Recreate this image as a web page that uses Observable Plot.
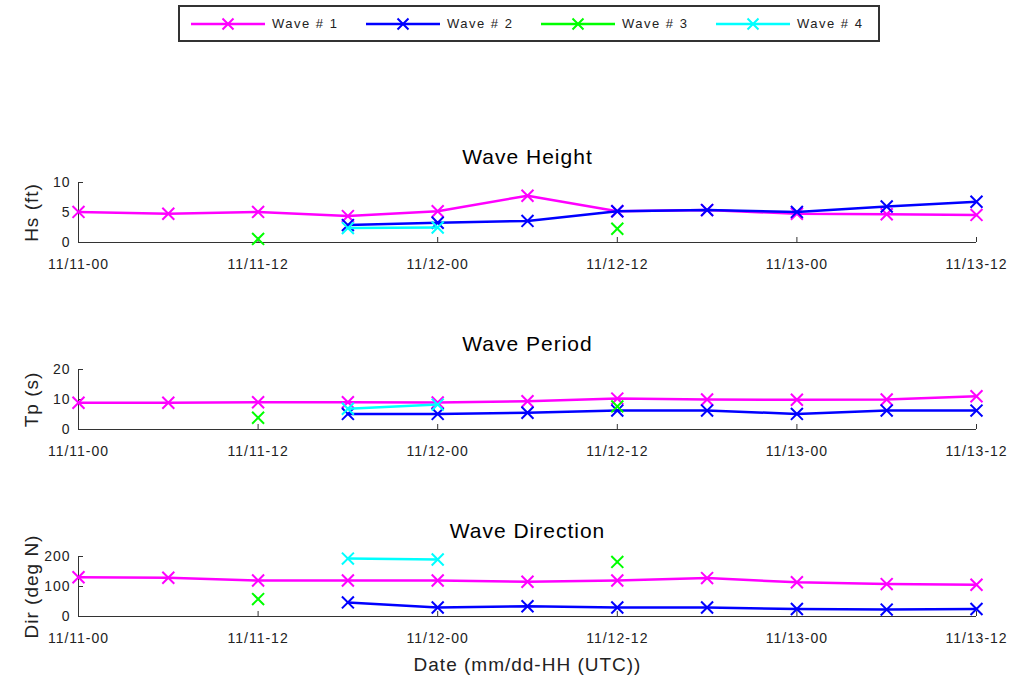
<!DOCTYPE html>
<html>
<head>
<meta charset="utf-8">
<script src="https://cdn.jsdelivr.net/npm/d3@7"></script>
<script src="https://cdn.jsdelivr.net/npm/@observablehq/plot@0.6"></script>
<style>
  body { margin: 0; background: #fff; }
  #root { position: relative; width: 1015px; height: 684px; overflow: hidden; background: #fff;
          font-family: "Liberation Sans", Arial, sans-serif; }
  .panel { position: absolute; left: 0; }
  #legend { position: absolute; left: 178px; top: 5px; width: 702px; height: 37px; box-sizing: border-box;
            border: 2px solid #333; background: #fff; }
  .item { position: absolute; top: 6px; height: 22px; }
  .item svg { position: absolute; left: 0; top: 0; }
  .item span { position: absolute; left: 82px; top: 3px; font-size: 13px; letter-spacing: 1.5px; color: #222; white-space: nowrap; }
</style>
</head>
<body>
<div id="root">
  <div id="legend"></div>
</div>
<script>
// ---- data ----
const hours = [0, 6, 12, 18, 24, 30, 36, 42, 48, 54, 60];
const xTickHours = [0, 12, 24, 36, 48, 60];
const xTickLabels = ["11/11-00", "11/11-12", "11/12-00", "11/12-12", "11/13-00", "11/13-12"];
const seriesNames = ["Wave # 1", "Wave # 2", "Wave # 3", "Wave # 4"];
const seriesColors = ["#ff00ff", "#0000ff", "#00ff00", "#00ffff"];

// Wave height (ft)
const hs1 = [5.1, 4.8, 5.1, 4.4, 5.2, 7.8, 5.2, 5.4, 4.8, 4.7, 4.6];
const hs2 = [null, null, null, 2.9, 3.3, 3.6, 5.2, 5.4, 5.1, 6.0, 6.8];
const hs3 = [null, null, 0.6, null, null, null, 2.3, null, null, null, null];
const hs4 = [null, null, null, 2.4, 2.5, null, null, null, null, null, null];

// Wave period (s)
const tp1 = [8.9, 8.9, 9.1, 9.1, 9.0, 9.4, 10.3, 10.0, 9.9, 10.0, 11.1];
const tp2 = [null, null, null, 5.2, 5.2, 5.6, 6.3, 6.3, 5.2, 6.3, 6.3];
const tp3 = [null, null, 3.9, null, null, null, 7.7, null, null, null, null];
const tp4 = [null, null, null, 6.9, 8.3, null, null, null, null, null, null];

// Wave direction (deg N)
const dir1 = [131, 129, 120, 120, 120, 116, 120, 128, 114, 108, 106];
const dir2 = [null, null, null, 47, 30, 34, 30, 30, 25, 23, 25];
const dir3 = [null, null, 58, null, null, null, 182, null, null, null, null];
const dir4 = [null, null, null, 193, 190, null, null, null, null, null, null];

const heightTicks = [0, 5, 10];
const periodTicks = [0, 10, 20];
const dirTicks = [0, 100, 200];

// ---- legend ----
const legend = document.getElementById("legend");
seriesNames.forEach((name, i) => {
  const item = document.createElement("div");
  item.className = "item";
  item.style.left = (10 + i * 175) + "px";
  const ns = "http://www.w3.org/2000/svg";
  const svg = document.createElementNS(ns, "svg");
  svg.setAttribute("width", 76); svg.setAttribute("height", 22);
  const line = document.createElementNS(ns, "line");
  line.setAttribute("x1", 1); line.setAttribute("x2", 75); line.setAttribute("y1", 11); line.setAttribute("y2", 11);
  line.setAttribute("stroke", seriesColors[i]); line.setAttribute("stroke-width", 2.5);
  svg.appendChild(line);
  const x = document.createElementNS(ns, "path");
  x.setAttribute("d", "M32.5,5.5L43.5,16.5M43.5,5.5L32.5,16.5");
  x.setAttribute("stroke", seriesColors[i]); x.setAttribute("stroke-width", 2);
  svg.appendChild(x);
  item.appendChild(svg);
  const sp = document.createElement("span");
  sp.textContent = name;
  item.appendChild(sp);
  legend.appendChild(item);
});

// ---- panels ----
const W = 1015, ML = 78, MR = 39, MT = 45, IH = 60;
const axisColor = "#333";

function panel({title, ylabel, yDomain, yTicks, series, top, marginBottom, xlabel}) {
  const marks = [];
  // axis lines (left and bottom) and inward ticks
  marks.push(Plot.ruleY([yDomain[0]], {stroke: axisColor}));
  marks.push(Plot.ruleX([0], {stroke: axisColor}));
  marks.push(Plot.ruleX(xTickHours, {x: d => d, stroke: axisColor, insetTop: IH - 5}));
  marks.push(Plot.ruleY(yTicks, {y: d => d, stroke: axisColor, insetRight: (W - ML - MR) - 5}));
  marks.push(Plot.axisX(xTickHours, {tickSize: 0, tickPadding: 17, fill: "#222",
    tickFormat: d => xTickLabels[xTickHours.indexOf(d)]}));
  marks.push(Plot.axisY(yTicks, {tickSize: 0, tickPadding: 8, fill: "#222"}));
  // series: each line then its markers, in order
  series.forEach((vals, s) => {
    const rows = hours.map((h, i) => ({hour: h, value: vals[i]}));
    marks.push(Plot.line(rows, {x: "hour", y: "value", stroke: seriesColors[s], strokeWidth: 2.5}));
    marks.push(Plot.dot(rows, {x: "hour", y: "value", stroke: seriesColors[s], symbol: "times", r: 5.5, strokeWidth: 2}));
  });
  marks.push(Plot.text([title], {frameAnchor: "top", lineAnchor: "middle", textAnchor: "middle", dy: -25, fontSize: 21, fill: "#000", letterSpacing: "1.6px"}));
  marks.push(Plot.text([ylabel], {frameAnchor: "left", textAnchor: "middle", lineAnchor: "middle", dx: -47, rotate: -90, fontSize: 19, fill: "#222"}));
  if (xlabel) marks.push(Plot.text([xlabel], {frameAnchor: "bottom", lineAnchor: "middle", textAnchor: "middle", dy: 48, fontSize: 19, fill: "#222"}));
  const chart = Plot.plot({
    width: W, height: MT + IH + marginBottom,
    marginLeft: ML, marginRight: MR, marginTop: MT, marginBottom,
    style: {fontFamily: '"Liberation Sans", Arial, sans-serif', fontSize: "14px", letterSpacing: "1px", background: "transparent", overflow: "visible"},
    x: {domain: [0, 60], label: null},
    y: {domain: yDomain, label: null},
    marks
  });
  chart.classList.add("panel");
  chart.style.position = "absolute";
  chart.style.top = top + "px";
  document.getElementById("root").appendChild(chart);
}

panel({title: "Wave Height", ylabel: "Hs (ft)", yDomain: [0, 10], yTicks: heightTicks,
       series: [hs1, hs2, hs3, hs4], top: 182 - MT, marginBottom: 40});
panel({title: "Wave Period", ylabel: "Tp (s)", yDomain: [0, 20], yTicks: periodTicks,
       series: [tp1, tp2, tp3, tp4], top: 369 - MT, marginBottom: 40});
panel({title: "Wave Direction", ylabel: "Dir (deg N)", yDomain: [0, 200], yTicks: dirTicks,
       series: [dir1, dir2, dir3, dir4], top: 556 - MT, marginBottom: 65, xlabel: "Date (mm/dd-HH (UTC))"});
</script>
</body>
</html>
